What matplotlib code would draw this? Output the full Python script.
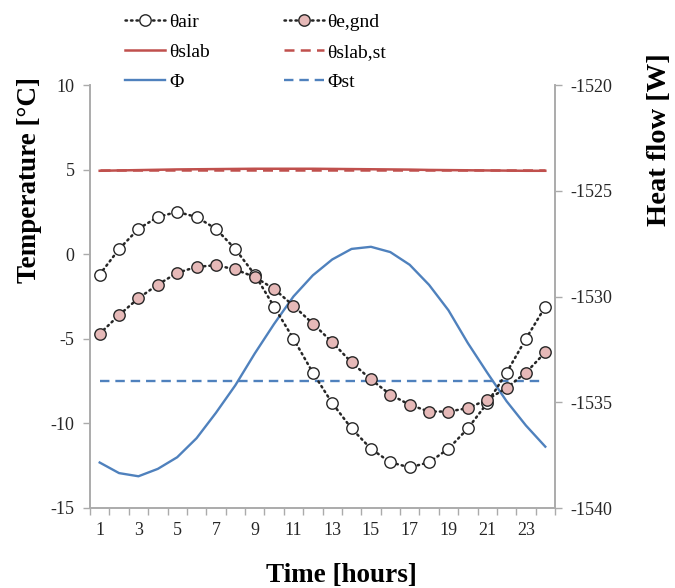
# Library imports
import numpy as np
import matplotlib.pyplot as plt
from matplotlib.ticker import FixedLocator, MultipleLocator


# Data
hours = np.arange(1, 25)

theta_air = [-1.2, 0.3, 1.5, 2.2, 2.5, 2.2, 1.5, 0.3, -1.2, -3.1, -5.0, -7.0,
             -8.8, -10.3, -11.5, -12.3, -12.6, -12.3, -11.5, -10.3, -8.8, -7.0, -5.0, -3.1]

theta_e_gnd = [-4.7, -3.6, -2.6, -1.8, -1.1, -0.75, -0.65, -0.9, -1.35, -2.05, -3.05, -4.1,
               -5.2, -6.4, -7.4, -8.3, -8.9, -9.3, -9.3, -9.1, -8.6, -7.9, -7.0, -5.8]

theta_slab = [4.93, 4.95, 4.97, 4.99, 5.01, 5.02, 5.03, 5.04, 5.05, 5.05, 5.05, 5.05,
              5.04, 5.03, 5.02, 5.01, 5.0, 4.98, 4.97, 4.96, 4.95, 4.94, 4.93, 4.93]

theta_slab_st = [4.97] * 24

phi = [-1537.85, -1538.35, -1538.5, -1538.15, -1537.6, -1536.7, -1535.5, -1534.2,
       -1532.7, -1531.3, -1530.0, -1529.0, -1528.25, -1527.75, -1527.65, -1527.9,
       -1528.5, -1529.45, -1530.65, -1532.2, -1533.6, -1534.95, -1536.1, -1537.1]

phi_st = [-1534.0] * 24

x_labels = [str(h) for h in range(1, 24, 2)]


# Styles
RED = '#C0504D'
BLUE = '#4F81BD'
PINK = '#E6B9B8'
SPINE = '#ABABAB'
TXT = '#262626'
FONT = 'Liberation Serif'

plt.rcParams['font.family'] = [FONT, 'DejaVu Serif']
plt.rcParams['axes.unicode_minus'] = False

figure = plt.figure(figsize=(6.75, 5.88), dpi=100)
axis = figure.add_axes([90 / 675, 1 - 508 / 588, 465 / 675, 423 / 588])
axis2 = axis.twinx()
axis.set_zorder(2)
axis.patch.set_visible(False)

# Right axis: heat flow
l_phi, = axis2.plot(hours, phi, color=BLUE, lw=1.7, label='Φ')
l_phist, = axis2.plot(hours, phi_st, color=BLUE, lw=1.7, ls=(0, (4, 2.5)), label='Φst')

# Left axis: temperatures
l_slab, = axis.plot(hours, theta_slab, color=RED, lw=1.8, label='θslab')
l_slabst, = axis.plot(hours, theta_slab_st, color=RED, lw=1.8, ls=(0, (4, 2.5)), label='θslab,st')
l_air, = axis.plot(hours, theta_air, color='#262626', lw=1.8, ls=(0, (0.6, 1.6)),
                   dash_capstyle='round', marker='o', ms=8.2, mfc='white',
                   mec='#262626', mew=1.0, label='θair')
l_gnd, = axis.plot(hours, theta_e_gnd, color='#262626', lw=1.8, ls=(0, (0.6, 1.6)),
                   dash_capstyle='round', marker='o', ms=8.2, mfc=PINK,
                   mec='#262626', mew=1.0, label='θe,gnd')

axis.set_xlim(0.5, 24.5)
axis.set_ylim(-15, 10)
axis2.set_ylim(-1540, -1520)

axis.xaxis.set_major_locator(FixedLocator(list(range(1, 24, 2))))
axis.set_xticklabels(x_labels)
axis.xaxis.set_minor_locator(FixedLocator(np.arange(0.5, 25, 1)))
axis.tick_params(axis='x', which='major', length=0, pad=10, labelsize=13, labelcolor=TXT)
axis.tick_params(axis='x', which='minor', length=5, width=1, color=SPINE, direction='out')
axis.yaxis.set_major_locator(MultipleLocator(5))
axis.tick_params(axis='y', length=5, width=1, color=SPINE, labelsize=13, labelcolor=TXT, pad=6)
axis2.yaxis.set_major_locator(MultipleLocator(5))
axis2.tick_params(axis='y', length=5, width=1, color=SPINE, labelsize=13, labelcolor=TXT, pad=6)

for ax in (axis, axis2):
    ax.spines['top'].set_visible(False)
    for side in ('left', 'right', 'bottom'):
        ax.spines[side].set_color(SPINE)
        ax.spines[side].set_linewidth(1.2)

axis.set_ylabel('Temperature [°C]', fontsize=19.5, fontweight='bold')
axis.yaxis.set_label_coords((42 - 90) / 465, (508 - 180) / 423)
axis2.set_ylabel('Heat flow [W]', fontsize=20.5, fontweight='bold')
axis2.yaxis.set_label_coords((647 - 90) / 465, (508 - 140) / 423)
axis.set_xlabel('Time [hours]', fontsize=19.5, fontweight='bold')
axis.xaxis.set_label_coords((341 - 90) / 465, -(563 - 508) / 423)

handles = [l_air, l_slab, l_phi, l_gnd, l_slabst, l_phist]
figure.legend(handles=handles, labels=[h.get_label() for h in handles],
              loc='upper center', bbox_to_anchor=(0.379, 1.0), ncol=2,
              frameon=False, fontsize=14, handlelength=2.05, handletextpad=0.2,
              columnspacing=3.8, labelspacing=0.62, borderpad=0.2, numpoints=1)

plt.savefig('out.png', dpi=100)
